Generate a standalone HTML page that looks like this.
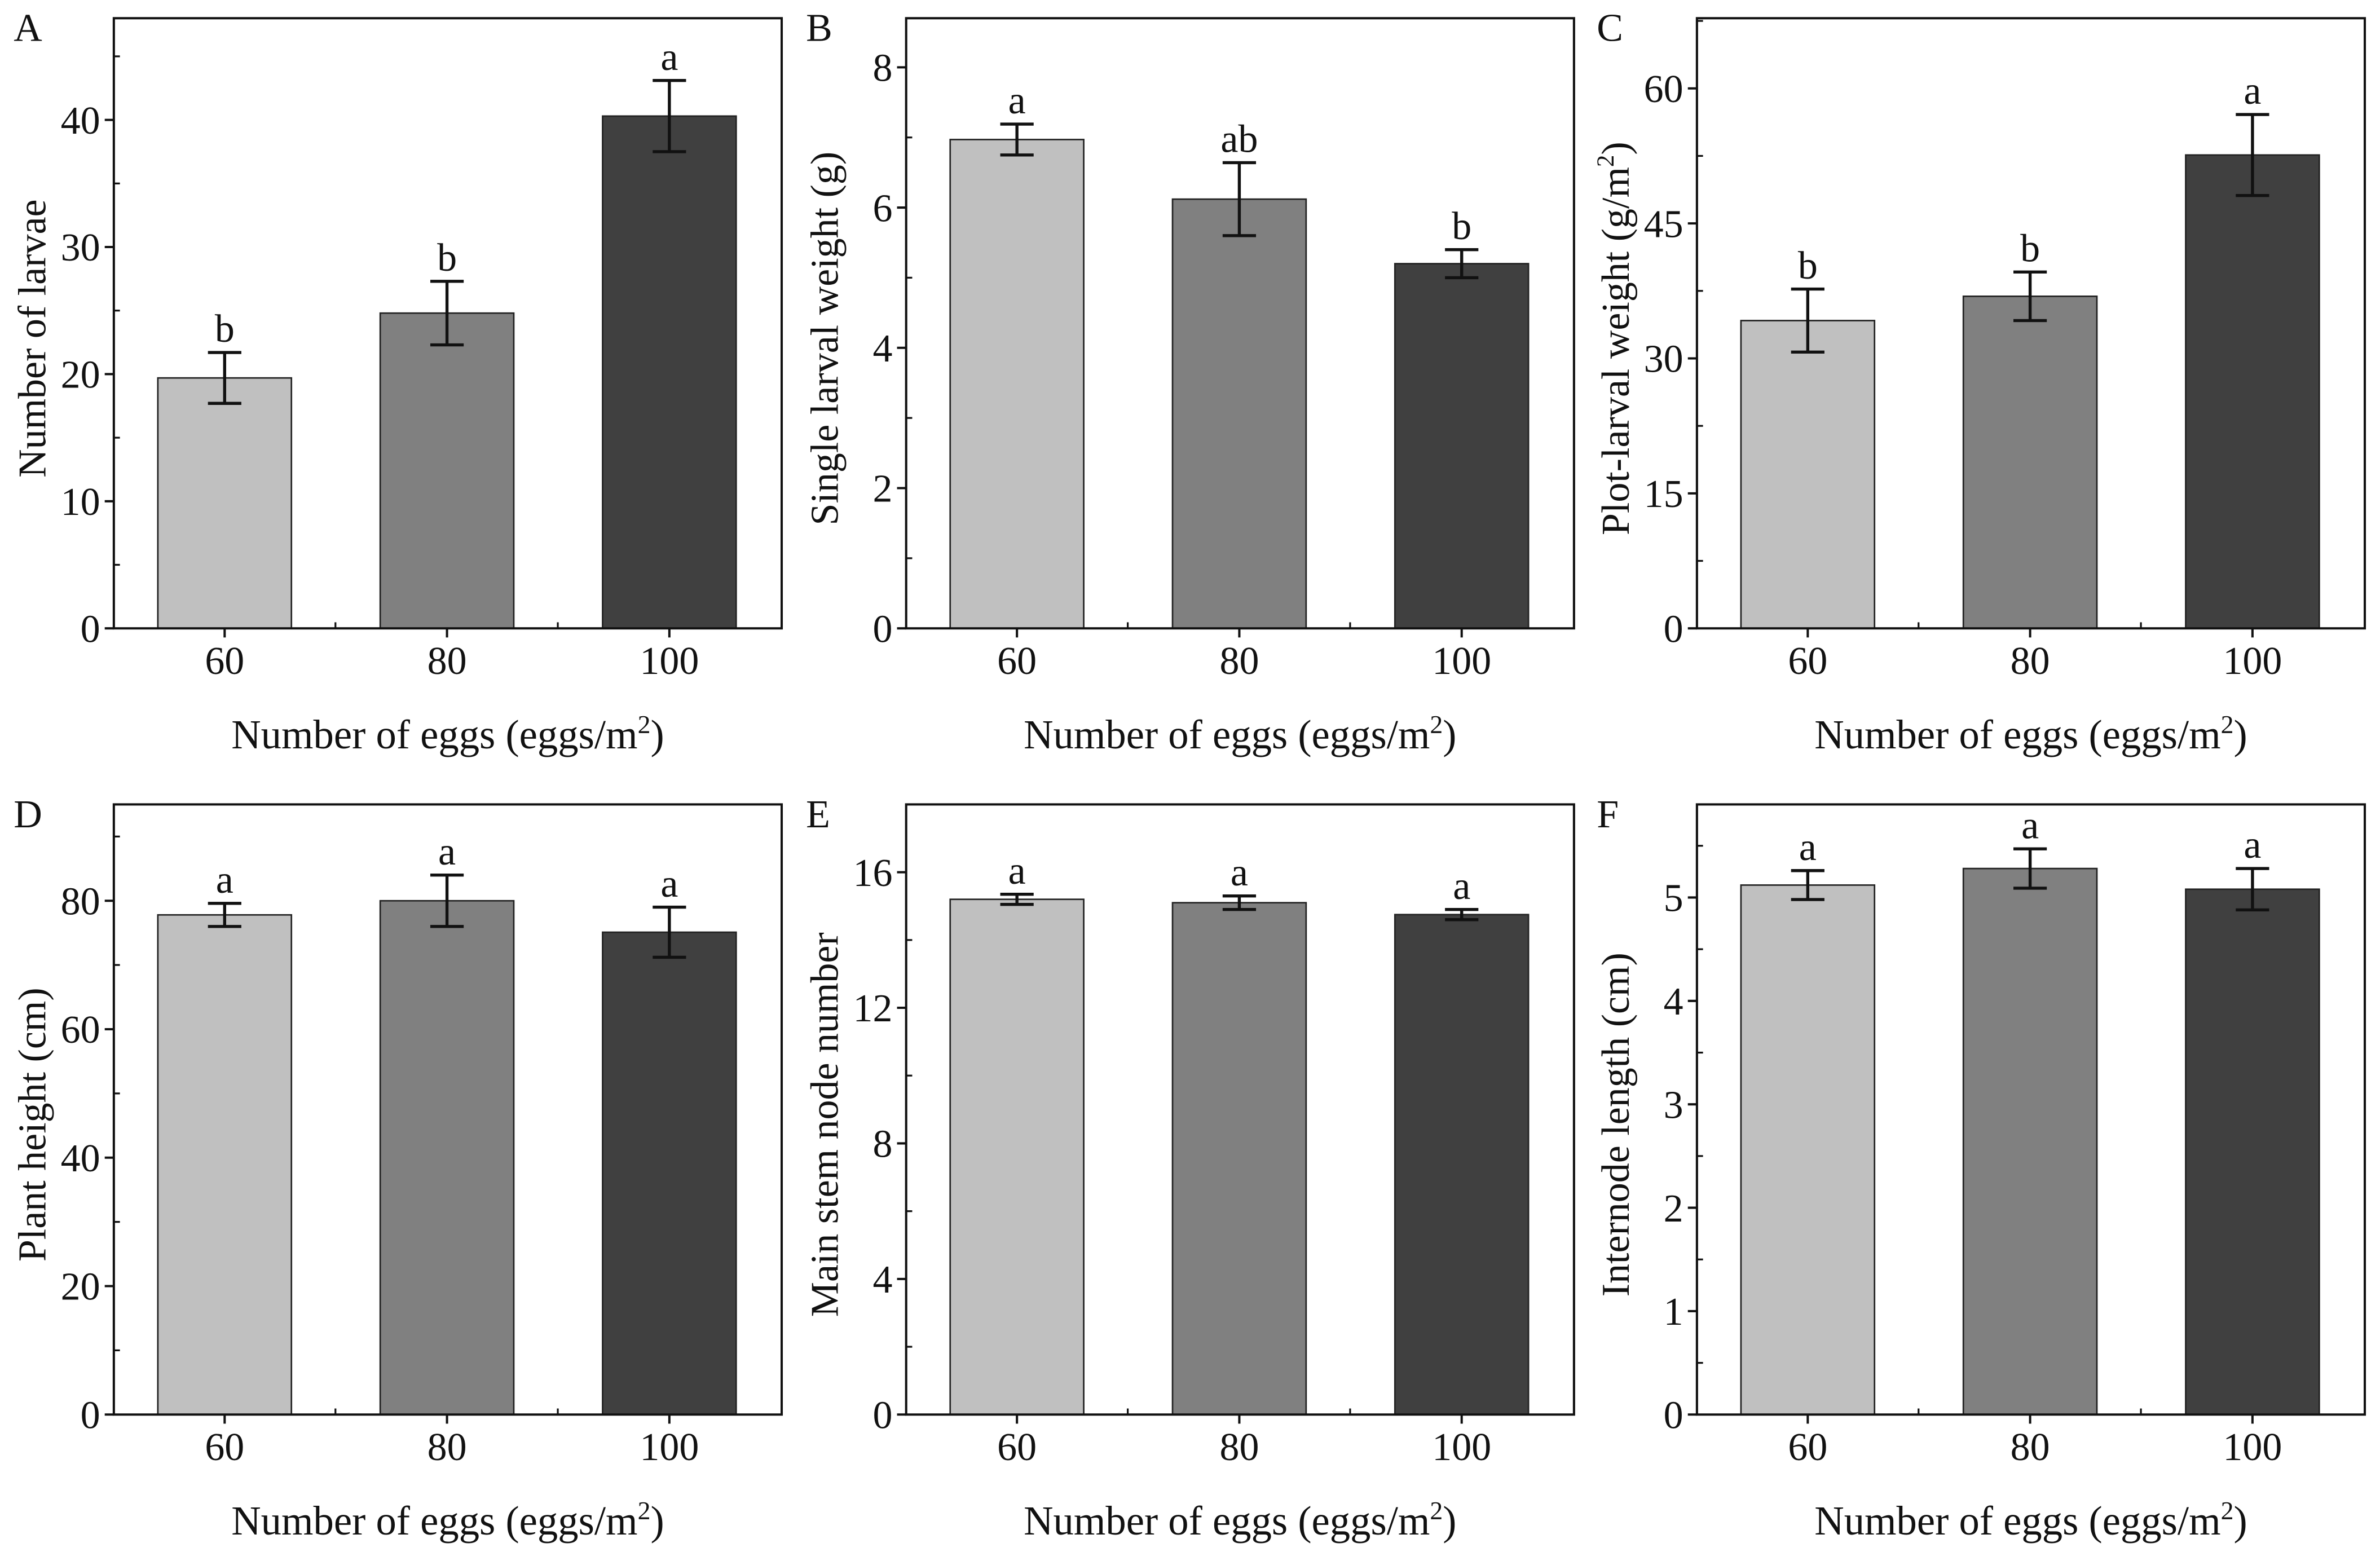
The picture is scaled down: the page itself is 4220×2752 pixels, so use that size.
<!DOCTYPE html>
<html><head><meta charset="utf-8"><style>
html,body{margin:0;padding:0;background:#fff;}
svg{display:block;}
text{font-family:"Liberation Serif","DejaVu Serif",serif;fill:#111;}
</style></head>
<body>
<svg id="fig" width="4220" height="2752" viewBox="0 0 4220 2752" xmlns="http://www.w3.org/2000/svg">
<rect width="4220" height="2752" fill="#fff"/>
<g id="root" transform="scale(2.6913)"></g>
</svg>
<script>
const categories = ["60","80","100"];
const panelLetters = ["A","B","C","D","E","F"];
const yTitles = ["Number of larvae","Single larval weight (g)","Plot-larval weight (g/m²)","Plant height (cm)","Main stem node number","Internode length (cm)"];
const valuesA = [19.7, 24.8, 40.3];
const errorsA = [2.0, 2.5, 2.8];
const lettersA = ["b","b","a"];
const valuesB = [6.97, 6.12, 5.2];
const errorsB = [0.22, 0.52, 0.2];
const lettersB = ["a","ab","b"];
const valuesC = [34.2, 36.9, 52.6];
const errorsC = [3.5, 2.7, 4.5];
const lettersC = ["b","b","a"];
const valuesD = [77.8, 80.0, 75.1];
const errorsD = [1.8, 4.0, 3.9];
const lettersD = ["a","a","a"];
const valuesE = [15.2, 15.1, 14.75];
const errorsE = [0.15, 0.2, 0.15];
const lettersE = ["a","a","a"];
const valuesF = [5.12, 5.28, 5.08];
const errorsF = [0.14, 0.19, 0.2];
const lettersF = ["a","a","a"];
const ticksA = [0,10,20,30,40];
const ticksB = [0,2,4,6,8];
const ticksC = [0,15,30,45,60];
const ticksD = [0,20,40,60,80];
const ticksE = [0,4,8,12,16];
const ticksF = [0,1,2,3,4,5];
const ymaxes = [48, 8.7, 67.8, 95, 18, 5.9];

const NS="http://www.w3.org/2000/svg";
const root=document.getElementById('root');
const colors=["#c0c0c0","#808080","#404040"];
function mk(tag,attrs,parent){const e=document.createElementNS(NS,tag);for(const k in attrs)e.setAttribute(k,attrs[k]);parent.appendChild(e);return e;}

const panels=[
 {v:valuesA,e:errorsA,l:lettersA,t:ticksA,x0:75,y0:12},
 {v:valuesB,e:errorsB,l:lettersB,t:ticksB,x0:597,y0:12},
 {v:valuesC,e:errorsC,l:lettersC,t:ticksC,x0:1118,y0:12},
 {v:valuesD,e:errorsD,l:lettersD,t:ticksD,x0:75,y0:530},
 {v:valuesE,e:errorsE,l:lettersE,t:ticksE,x0:597,y0:530},
 {v:valuesF,e:errorsF,l:lettersF,t:ticksF,x0:1118,y0:530}
];
const W=440,H=402;
panels.forEach((p,i)=>{
 const g=mk('g',{},root);
 
 
 const ymax=ymaxes[i];
 const y=v=>p.y0+H-(v/ymax)*H;
 const x=k=>p.x0+73+k*146.5;
 p.v.forEach((v,k)=>{
  const r=mk('rect',{x:x(k)-44,y:y(v),width:88,height:y(0)-y(v),fill:colors[k],stroke:'#222','stroke-width':1},g);
  
  
  const eb=mk('path',{d:`M${x(k)},${y(v-p.e[k])}V${y(v+p.e[k])}M${x(k)-11},${y(v+p.e[k])}h22M${x(k)-11},${y(v-p.e[k])}h22`,stroke:'#111','stroke-width':2,fill:'none'},g);
  
  
  const lt=mk('text',{x:x(k),y:y(v+p.e[k])-7,'text-anchor':'middle','font-size':26},g);
  lt.textContent=p.l[k];
  
  
 });
 const fr=mk('rect',{x:p.x0,y:p.y0,width:W,height:H,fill:'none',stroke:'#111','stroke-width':1.5},g);
 
 
 const step=p.t[1]-p.t[0];
 p.t.forEach(t=>{
  mk('line',{x1:p.x0-6,x2:p.x0,y1:y(t),y2:y(t),stroke:'#111','stroke-width':1.5},g);
  const tl=mk('text',{x:p.x0-9,y:y(t)+9,'text-anchor':'end','font-size':26},g);
  tl.textContent=t;
  
  
 });
 for(let m=step/2;m<ymax;m+=step){
  if(p.t.some(t=>Math.abs(t-m)<1e-6))continue;
  mk('line',{x1:p.x0,x2:p.x0+4,y1:y(m),y2:y(m),stroke:'#111','stroke-width':1.2},g);
 }
 categories.forEach((c,k)=>{
  mk('line',{x1:x(k),x2:x(k),y1:p.y0+H,y2:p.y0+H+6,stroke:'#111','stroke-width':1.5},g);
  const tl=mk('text',{x:x(k),y:p.y0+H+30,'text-anchor':'middle','font-size':26},g);
  tl.textContent=c;
  
  
  if(k<2) mk('line',{x1:x(k)+73,x2:x(k)+73,y1:p.y0+H,y2:p.y0+H-4,stroke:'#111','stroke-width':1.2},g);
 });
 const xt=mk('text',{x:p.x0+220,y:p.y0+H+79,'text-anchor':'middle','font-size':27},g);
 xt.innerHTML='Number of eggs (eggs/m<tspan dy="-10" font-size="17">2</tspan><tspan dy="10">)</tspan>';
 
 
 const yt=mk('text',{x:0,y:0,'text-anchor':'middle','font-size':26,transform:`translate(${p.x0-45},${p.y0+H/2+10}) rotate(-90)`},g);
 if(i===2){yt.innerHTML='Plot-larval weight (g/m<tspan dy="-10" font-size="16">2</tspan><tspan dy="10">)</tspan>';}
 else yt.textContent=yTitles[i];
 
 
 const pl=mk('text',{x:p.x0-66,y:p.y0+15,'font-size':26},g);
 pl.textContent=panelLetters[i];
 
 
});
</script>
</body></html>
